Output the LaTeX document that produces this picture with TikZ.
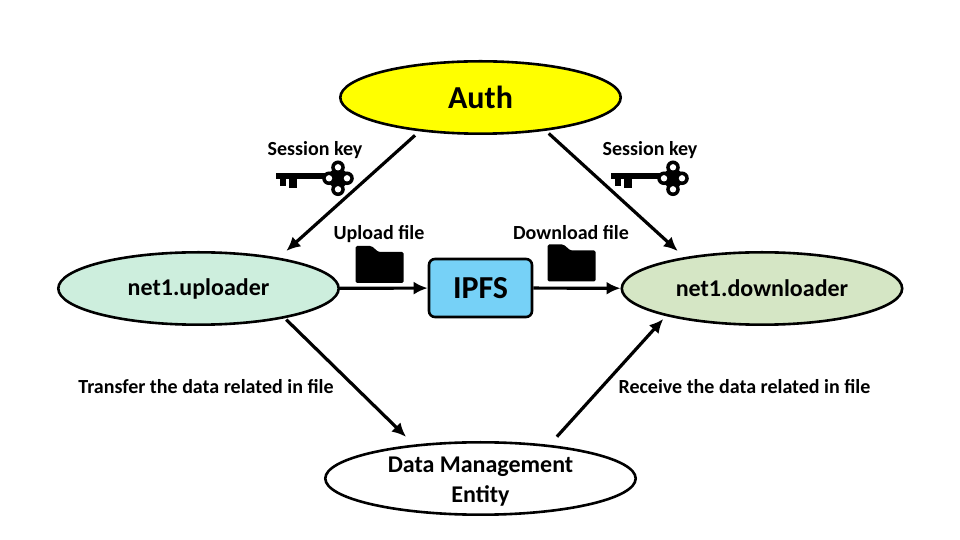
\documentclass[tikz,border=0pt]{standalone}
\usepackage{fontspec}
\setmainfont{Carlito}
\usetikzlibrary{shapes.geometric,arrows.meta}
\definecolor{authcol}{rgb}{1,1,0}
\tikzset{
  entity/.style={draw=black,ellipse,line width=2.6bp,minimum width=280.4bp,minimum height=72.4bp,inner sep=0pt,font=\bfseries\fontsize{24bp}{30bp}\selectfont},
  flow/.style={line width=3.2bp},
  caption/.style={font=\bfseries\fontsize{20bp}{22bp}\selectfont,inner sep=0pt},
  sessionkey/.pic={
    % shaft and teeth
    \fill[black] (-39bp,-2.5bp) rectangle (14bp,4bp);
    \fill[black] (-35bp,-2.5bp) rectangle (-29bp,-8.7bp);
    \fill[black] (-26bp,-2.5bp) rectangle (-18bp,-11bp);
    % bow
    \fill[black] (23bp,-1.3bp) circle (10bp);
    \foreach \dx/\dy in {9/0,-9/0,0/11,0/-11} {
      \fill[black] (23bp+\dx bp,-1.3bp+\dy bp) circle (6.8bp);
    }
    \foreach \dx/\dy in {9/0,-9/0,0/11,0/-11} {
      \fill[white] (23bp+\dx bp,-1.3bp+\dy bp) circle (3.2bp);
    }
  },
  folder/.pic={
    \fill[black,rounded corners=1.5bp] (-24bp,-18.5bp) -- (-24bp,18.5bp) -- (-8bp,18.5bp)
      -- (-1bp,12.5bp) -- (24bp,12.5bp) -- (24bp,-18.5bp) -- cycle;
  },
}
\begin{document}
\begin{tikzpicture}[>={Latex[length=14bp,width=13bp]}]
  \useasboundingbox (0bp,0bp) rectangle (960bp,540bp);
  % Nodes
  \node [entity,fill=authcol,font=\bfseries\fontsize{32bp}{34bp}\selectfont] (auth) at (480.5bp,442.5bp) {Auth};
  \node [entity,fill={rgb,255:red,205;green,238;blue,221}] (uploader) at (198.5bp,251.5bp) {net1.uploader};
  \node [entity,fill={rgb,255:red,213;green,230;blue,197}] (downloader) at (762bp,251.5bp) {net1.downloader};
  \node [entity,fill=white,minimum width=310.4bp] (dme) at (480.5bp,61.5bp) {\smash{\raisebox{-9.5bp}{\begin{tabular}{@{}c@{}}Data Management\\Entity\end{tabular}}}};
  \node [draw=black,fill={rgb,255:red,118;green,209;blue,247},line width=2.6bp,rounded corners=6bp,minimum width=103bp,minimum height=58bp,inner sep=0pt,font=\bfseries\fontsize{32bp}{34bp}\selectfont] (ipfs) at (480.5bp,252bp) {IPFS};
  % Edges
  \draw [flow,->,shorten <=6bp,shorten >=10bp] (auth.209.6) -- (uploader.21.8);
  \draw [flow,->,shorten <=4bp,shorten >=9bp] (auth.-27.6) -- (downloader.158.9);
  \draw [flow,->] (uploader) -- (ipfs);
  \draw [flow,->] (ipfs) -- (downloader);
  \draw [flow,->,shorten <=2bp,shorten >=11bp] (uploader.-19.9) -- (dme.153.8);
  \draw [flow,->,shorten <=11bp,shorten >=4bp] (dme.26.7) -- (downloader.196.9);
  % Labels
  \node [caption] (keytextl) at (315bp,390bp) {Session key};
  \node [caption] (keytextr) at (650bp,390bp) {Session key};
  \node [caption] (uptext) at (379bp,305.5bp) {Upload file};
  \node [caption] (downtext) at (571bp,307.5bp) {Download file};
  \node [caption] (sendtext) at (206bp,153bp) {Transfer the data related in file};
  \node [caption] (recvtext) at (744.5bp,153bp) {Receive the data related in file};
  % Icons
  \pic at (315bp,363bp) {sessionkey};
  \pic at (650bp,363bp) {sessionkey};
  \pic at (379.5bp,275.5bp) {folder};
  \pic at (571.5bp,277bp) {folder};
\end{tikzpicture}
\end{document}
